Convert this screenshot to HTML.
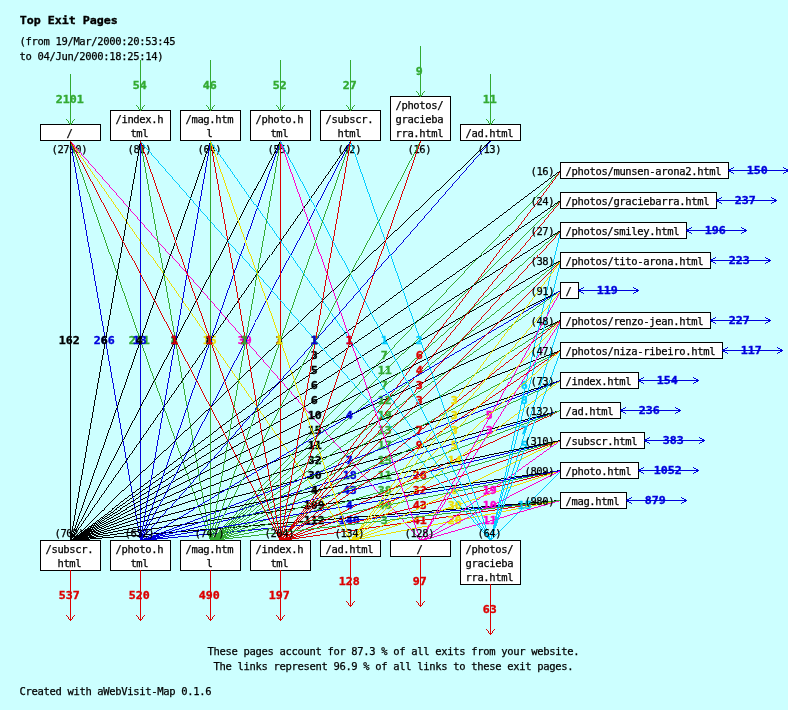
<!DOCTYPE html>
<html lang="en">
<head>
<meta charset="utf-8">
<title>Top Exit Pages</title>
<style>
html,body{margin:0;padding:0;background:#ccffff;}
body{width:788px;height:710px;overflow:hidden;}
svg{display:block;}
text{font-family:"DejaVu Sans Mono", "Liberation Mono", monospace;white-space:pre;}
.t{font-size:10.5px;stroke:#000;stroke-width:0.25px;}
.b{font-size:10.6px;font-weight:bold;stroke-width:0.35px;}
.bx{fill:#fff;stroke:#000;stroke-width:1;shape-rendering:crispEdges;}
line{shape-rendering:crispEdges;}
</style>
</head>
<body>
<svg width="788" height="710" viewBox="0 0 788 710" stroke-width="0.99">
<rect x="0" y="0" width="788" height="710" fill="#ccffff"/>
<text class="b" x="19.7" y="24.0" textLength="98.0" stroke="#000" lengthAdjust="spacingAndGlyphs">Top Exit Pages</text>
<text class="t" x="19.5" y="45.0" textLength="156.0">(from 19/Mar/2000:20:53:45</text>
<text class="t" x="19.5" y="60.0" textLength="144.0">to 04/Jun/2000:18:25:14)</text>
<rect class="bx" x="40.5" y="124.5" width="60.0" height="16.0"/>
<text class="t" x="66.5" y="137.0" textLength="6.0">/</text>
<text class="t" x="51.5" y="153.0" textLength="36.0">(2790)</text>
<text class="b" x="55.7" y="103.0" textLength="28.0" fill="#33aa33" stroke="#33aa33" lengthAdjust="spacingAndGlyphs">2101</text>
<line x1="70.5" y1="74.0" x2="70.5" y2="125.0" stroke="#33aa33" stroke-width="1"/>
<path d="M66 119h1v1h-1zM67 120h1v1h-1zM68 121h1v1h-1zM68 122h1v1h-1zM69 123h1v1h-1zM70 124h1v1h-1zM71 123h1v1h-1zM72 121h1v1h-1zM72 122h1v1h-1zM73 120h1v1h-1zM74 119h1v1h-1z" fill="#33aa33" stroke="none" shape-rendering="crispEdges"/>
<rect class="bx" x="110.5" y="110.5" width="60.0" height="30.0"/>
<text class="t" x="115.5" y="123.0" textLength="48.0">/index.h</text>
<text class="t" x="130.5" y="137.0" textLength="18.0">tml</text>
<text class="t" x="127.5" y="153.0" textLength="24.0">(82)</text>
<text class="b" x="132.7" y="89.0" textLength="14.0" fill="#33aa33" stroke="#33aa33" lengthAdjust="spacingAndGlyphs">54</text>
<line x1="140.5" y1="60.0" x2="140.5" y2="111.0" stroke="#33aa33" stroke-width="1"/>
<path d="M136 105h1v1h-1zM137 106h1v1h-1zM138 107h1v1h-1zM138 108h1v1h-1zM139 109h1v1h-1zM140 110h1v1h-1zM141 109h1v1h-1zM142 107h1v1h-1zM142 108h1v1h-1zM143 106h1v1h-1zM144 105h1v1h-1z" fill="#33aa33" stroke="none" shape-rendering="crispEdges"/>
<rect class="bx" x="180.5" y="110.5" width="60.0" height="30.0"/>
<text class="t" x="185.5" y="123.0" textLength="48.0">/mag.htm</text>
<text class="t" x="206.5" y="137.0" textLength="6.0">l</text>
<text class="t" x="197.5" y="153.0" textLength="24.0">(64)</text>
<text class="b" x="202.7" y="89.0" textLength="14.0" fill="#33aa33" stroke="#33aa33" lengthAdjust="spacingAndGlyphs">46</text>
<line x1="210.5" y1="60.0" x2="210.5" y2="111.0" stroke="#33aa33" stroke-width="1"/>
<path d="M206 105h1v1h-1zM207 106h1v1h-1zM208 107h1v1h-1zM208 108h1v1h-1zM209 109h1v1h-1zM210 110h1v1h-1zM211 109h1v1h-1zM212 107h1v1h-1zM212 108h1v1h-1zM213 106h1v1h-1zM214 105h1v1h-1z" fill="#33aa33" stroke="none" shape-rendering="crispEdges"/>
<rect class="bx" x="250.5" y="110.5" width="60.0" height="30.0"/>
<text class="t" x="255.5" y="123.0" textLength="48.0">/photo.h</text>
<text class="t" x="270.5" y="137.0" textLength="18.0">tml</text>
<text class="t" x="267.5" y="153.0" textLength="24.0">(55)</text>
<text class="b" x="272.7" y="89.0" textLength="14.0" fill="#33aa33" stroke="#33aa33" lengthAdjust="spacingAndGlyphs">52</text>
<line x1="280.5" y1="60.0" x2="280.5" y2="111.0" stroke="#33aa33" stroke-width="1"/>
<path d="M276 105h1v1h-1zM277 106h1v1h-1zM278 107h1v1h-1zM278 108h1v1h-1zM279 109h1v1h-1zM280 110h1v1h-1zM281 109h1v1h-1zM282 107h1v1h-1zM282 108h1v1h-1zM283 106h1v1h-1zM284 105h1v1h-1z" fill="#33aa33" stroke="none" shape-rendering="crispEdges"/>
<rect class="bx" x="320.5" y="110.5" width="60.0" height="30.0"/>
<text class="t" x="325.5" y="123.0" textLength="48.0">/subscr.</text>
<text class="t" x="337.5" y="137.0" textLength="24.0">html</text>
<text class="t" x="337.5" y="153.0" textLength="24.0">(42)</text>
<text class="b" x="342.7" y="89.0" textLength="14.0" fill="#33aa33" stroke="#33aa33" lengthAdjust="spacingAndGlyphs">27</text>
<line x1="350.5" y1="60.0" x2="350.5" y2="111.0" stroke="#33aa33" stroke-width="1"/>
<path d="M346 105h1v1h-1zM347 106h1v1h-1zM348 107h1v1h-1zM348 108h1v1h-1zM349 109h1v1h-1zM350 110h1v1h-1zM351 109h1v1h-1zM352 107h1v1h-1zM352 108h1v1h-1zM353 106h1v1h-1zM354 105h1v1h-1z" fill="#33aa33" stroke="none" shape-rendering="crispEdges"/>
<rect class="bx" x="390.5" y="96.5" width="60.0" height="44.0"/>
<text class="t" x="395.5" y="109.0" textLength="48.0">/photos/</text>
<text class="t" x="395.5" y="123.0" textLength="48.0">gracieba</text>
<text class="t" x="395.5" y="137.0" textLength="48.0">rra.html</text>
<text class="t" x="407.5" y="153.0" textLength="24.0">(16)</text>
<text class="b" x="415.7" y="75.0" textLength="7.0" fill="#33aa33" stroke="#33aa33" lengthAdjust="spacingAndGlyphs">9</text>
<line x1="420.5" y1="46.0" x2="420.5" y2="97.0" stroke="#33aa33" stroke-width="1"/>
<path d="M416 91h1v1h-1zM417 92h1v1h-1zM418 93h1v1h-1zM418 94h1v1h-1zM419 95h1v1h-1zM420 96h1v1h-1zM421 95h1v1h-1zM422 93h1v1h-1zM422 94h1v1h-1zM423 92h1v1h-1zM424 91h1v1h-1z" fill="#33aa33" stroke="none" shape-rendering="crispEdges"/>
<rect class="bx" x="460.5" y="124.5" width="60.0" height="16.0"/>
<text class="t" x="465.5" y="137.0" textLength="48.0">/ad.html</text>
<text class="t" x="477.5" y="153.0" textLength="24.0">(13)</text>
<text class="b" x="482.7" y="103.0" textLength="14.0" fill="#33aa33" stroke="#33aa33" lengthAdjust="spacingAndGlyphs">11</text>
<line x1="490.5" y1="74.0" x2="490.5" y2="125.0" stroke="#33aa33" stroke-width="1"/>
<path d="M486 119h1v1h-1zM487 120h1v1h-1zM488 121h1v1h-1zM488 122h1v1h-1zM489 123h1v1h-1zM490 124h1v1h-1zM491 123h1v1h-1zM492 121h1v1h-1zM492 122h1v1h-1zM493 120h1v1h-1zM494 119h1v1h-1z" fill="#33aa33" stroke="none" shape-rendering="crispEdges"/>
<text class="b" x="93.7" y="344.0" textLength="21.0" fill="#0000dd" stroke="#0000dd" lengthAdjust="spacingAndGlyphs">266</text>
<line x1="70.5" y1="140.5" x2="140.5" y2="540.5" stroke="#0000dd"/>
<text class="b" x="128.7" y="344.0" textLength="21.0" fill="#33aa33" stroke="#33aa33" lengthAdjust="spacingAndGlyphs">211</text>
<line x1="70.5" y1="140.5" x2="210.5" y2="540.5" stroke="#33aa33"/>
<text class="b" x="58.7" y="344.0" textLength="21.0" fill="#000000" stroke="#000000" lengthAdjust="spacingAndGlyphs">162</text>
<line x1="70.5" y1="140.5" x2="70.5" y2="540.5" stroke="#000000" stroke-width="1"/>
<text class="b" x="338.7" y="524.0" textLength="21.0" fill="#0000dd" stroke="#0000dd" lengthAdjust="spacingAndGlyphs">140</text>
<line x1="560.5" y1="500.5" x2="140.5" y2="540.5" stroke="#0000dd"/>
<text class="b" x="303.7" y="524.0" textLength="21.0" fill="#000000" stroke="#000000" lengthAdjust="spacingAndGlyphs">112</text>
<line x1="560.5" y1="500.5" x2="70.5" y2="540.5" stroke="#000000"/>
<text class="b" x="303.7" y="509.0" textLength="21.0" fill="#000000" stroke="#000000" lengthAdjust="spacingAndGlyphs">109</text>
<line x1="560.5" y1="470.5" x2="70.5" y2="540.5" stroke="#000000"/>
<text class="b" x="342.7" y="494.0" textLength="14.0" fill="#0000dd" stroke="#0000dd" lengthAdjust="spacingAndGlyphs">43</text>
<line x1="560.5" y1="440.5" x2="140.5" y2="540.5" stroke="#0000dd"/>
<text class="b" x="412.7" y="509.0" textLength="14.0" fill="#dd0000" stroke="#dd0000" lengthAdjust="spacingAndGlyphs">43</text>
<line x1="560.5" y1="470.5" x2="280.5" y2="540.5" stroke="#dd0000"/>
<text class="b" x="412.7" y="524.0" textLength="14.0" fill="#dd0000" stroke="#dd0000" lengthAdjust="spacingAndGlyphs">41</text>
<line x1="560.5" y1="500.5" x2="280.5" y2="540.5" stroke="#dd0000"/>
<text class="b" x="377.7" y="509.0" textLength="14.0" fill="#33aa33" stroke="#33aa33" lengthAdjust="spacingAndGlyphs">40</text>
<line x1="560.5" y1="470.5" x2="210.5" y2="540.5" stroke="#33aa33"/>
<text class="b" x="237.7" y="344.0" textLength="14.0" fill="#ff00cc" stroke="#ff00cc" lengthAdjust="spacingAndGlyphs">39</text>
<line x1="70.5" y1="140.5" x2="420.5" y2="540.5" stroke="#ff00cc"/>
<text class="b" x="377.7" y="494.0" textLength="14.0" fill="#33aa33" stroke="#33aa33" lengthAdjust="spacingAndGlyphs">38</text>
<line x1="560.5" y1="440.5" x2="210.5" y2="540.5" stroke="#33aa33"/>
<text class="b" x="307.7" y="464.0" textLength="14.0" fill="#000000" stroke="#000000" lengthAdjust="spacingAndGlyphs">32</text>
<line x1="560.5" y1="380.5" x2="70.5" y2="540.5" stroke="#000000"/>
<text class="b" x="412.7" y="494.0" textLength="14.0" fill="#dd0000" stroke="#dd0000" lengthAdjust="spacingAndGlyphs">32</text>
<line x1="560.5" y1="440.5" x2="280.5" y2="540.5" stroke="#dd0000"/>
<text class="b" x="307.7" y="479.0" textLength="14.0" fill="#000000" stroke="#000000" lengthAdjust="spacingAndGlyphs">30</text>
<line x1="560.5" y1="410.5" x2="70.5" y2="540.5" stroke="#000000"/>
<text class="b" x="447.7" y="509.0" textLength="14.0" fill="#eedd00" stroke="#eedd00" lengthAdjust="spacingAndGlyphs">30</text>
<line x1="560.5" y1="470.5" x2="350.5" y2="540.5" stroke="#eedd00"/>
<text class="b" x="412.7" y="479.0" textLength="14.0" fill="#dd0000" stroke="#dd0000" lengthAdjust="spacingAndGlyphs">26</text>
<line x1="560.5" y1="410.5" x2="280.5" y2="540.5" stroke="#dd0000"/>
<text class="b" x="447.7" y="524.0" textLength="14.0" fill="#eedd00" stroke="#eedd00" lengthAdjust="spacingAndGlyphs">20</text>
<line x1="560.5" y1="500.5" x2="350.5" y2="540.5" stroke="#eedd00"/>
<text class="b" x="377.7" y="419.0" textLength="14.0" fill="#33aa33" stroke="#33aa33" lengthAdjust="spacingAndGlyphs">19</text>
<line x1="560.5" y1="290.5" x2="210.5" y2="540.5" stroke="#33aa33"/>
<text class="b" x="482.7" y="494.0" textLength="14.0" fill="#ff00cc" stroke="#ff00cc" lengthAdjust="spacingAndGlyphs">19</text>
<line x1="560.5" y1="440.5" x2="420.5" y2="540.5" stroke="#ff00cc"/>
<text class="b" x="342.7" y="479.0" textLength="14.0" fill="#0000dd" stroke="#0000dd" lengthAdjust="spacingAndGlyphs">18</text>
<line x1="560.5" y1="410.5" x2="140.5" y2="540.5" stroke="#0000dd"/>
<text class="b" x="377.7" y="449.0" textLength="14.0" fill="#33aa33" stroke="#33aa33" lengthAdjust="spacingAndGlyphs">17</text>
<line x1="560.5" y1="350.5" x2="210.5" y2="540.5" stroke="#33aa33"/>
<text class="b" x="202.7" y="344.0" textLength="14.0" fill="#eedd00" stroke="#eedd00" lengthAdjust="spacingAndGlyphs">15</text>
<line x1="70.5" y1="140.5" x2="350.5" y2="540.5" stroke="#eedd00"/>
<text class="b" x="307.7" y="434.0" textLength="14.0" fill="#000000" stroke="#000000" lengthAdjust="spacingAndGlyphs">15</text>
<line x1="560.5" y1="320.5" x2="70.5" y2="540.5" stroke="#000000"/>
<text class="b" x="377.7" y="464.0" textLength="14.0" fill="#33aa33" stroke="#33aa33" lengthAdjust="spacingAndGlyphs">15</text>
<line x1="560.5" y1="380.5" x2="210.5" y2="540.5" stroke="#33aa33"/>
<text class="b" x="517.7" y="509.0" textLength="14.0" fill="#00ccff" stroke="#00ccff" lengthAdjust="spacingAndGlyphs">15</text>
<line x1="560.5" y1="470.5" x2="490.5" y2="540.5" stroke="#00ccff"/>
<text class="b" x="447.7" y="464.0" textLength="14.0" fill="#eedd00" stroke="#eedd00" lengthAdjust="spacingAndGlyphs">14</text>
<line x1="560.5" y1="380.5" x2="350.5" y2="540.5" stroke="#eedd00"/>
<text class="b" x="132.7" y="344.0" textLength="14.0" fill="#0000dd" stroke="#0000dd" lengthAdjust="spacingAndGlyphs">13</text>
<line x1="140.5" y1="140.5" x2="140.5" y2="540.5" stroke="#0000dd" stroke-width="1"/>
<text class="b" x="377.7" y="434.0" textLength="14.0" fill="#33aa33" stroke="#33aa33" lengthAdjust="spacingAndGlyphs">13</text>
<line x1="560.5" y1="320.5" x2="210.5" y2="540.5" stroke="#33aa33"/>
<text class="b" x="377.7" y="404.0" textLength="14.0" fill="#33aa33" stroke="#33aa33" lengthAdjust="spacingAndGlyphs">12</text>
<line x1="560.5" y1="260.5" x2="210.5" y2="540.5" stroke="#33aa33"/>
<text class="b" x="377.7" y="374.0" textLength="14.0" fill="#33aa33" stroke="#33aa33" lengthAdjust="spacingAndGlyphs">11</text>
<line x1="560.5" y1="200.5" x2="210.5" y2="540.5" stroke="#33aa33"/>
<text class="b" x="307.7" y="449.0" textLength="14.0" fill="#000000" stroke="#000000" lengthAdjust="spacingAndGlyphs">11</text>
<line x1="560.5" y1="350.5" x2="70.5" y2="540.5" stroke="#000000"/>
<text class="b" x="377.7" y="479.0" textLength="14.0" fill="#33aa33" stroke="#33aa33" lengthAdjust="spacingAndGlyphs">11</text>
<line x1="560.5" y1="410.5" x2="210.5" y2="540.5" stroke="#33aa33"/>
<text class="b" x="482.7" y="524.0" textLength="14.0" fill="#ff00cc" stroke="#ff00cc" lengthAdjust="spacingAndGlyphs">11</text>
<line x1="560.5" y1="500.5" x2="420.5" y2="540.5" stroke="#ff00cc"/>
<text class="b" x="307.7" y="419.0" textLength="14.0" fill="#000000" stroke="#000000" lengthAdjust="spacingAndGlyphs">10</text>
<line x1="560.5" y1="290.5" x2="70.5" y2="540.5" stroke="#000000"/>
<text class="b" x="482.7" y="509.0" textLength="14.0" fill="#ff00cc" stroke="#ff00cc" lengthAdjust="spacingAndGlyphs">10</text>
<line x1="560.5" y1="470.5" x2="420.5" y2="540.5" stroke="#ff00cc"/>
<text class="b" x="415.7" y="449.0" textLength="7.0" fill="#dd0000" stroke="#dd0000" lengthAdjust="spacingAndGlyphs">9</text>
<line x1="560.5" y1="350.5" x2="280.5" y2="540.5" stroke="#dd0000"/>
<text class="b" x="170.7" y="344.0" textLength="7.0" fill="#33aa33" stroke="#33aa33" lengthAdjust="spacingAndGlyphs">8</text>
<line x1="140.5" y1="140.5" x2="210.5" y2="540.5" stroke="#33aa33"/>
<text class="b" x="205.7" y="344.0" textLength="7.0" fill="#000000" stroke="#000000" lengthAdjust="spacingAndGlyphs">8</text>
<line x1="350.5" y1="140.5" x2="70.5" y2="540.5" stroke="#000000"/>
<text class="b" x="520.7" y="404.0" textLength="7.0" fill="#00ccff" stroke="#00ccff" lengthAdjust="spacingAndGlyphs">8</text>
<line x1="560.5" y1="260.5" x2="490.5" y2="540.5" stroke="#00ccff"/>
<text class="b" x="380.7" y="359.0" textLength="7.0" fill="#33aa33" stroke="#33aa33" lengthAdjust="spacingAndGlyphs">7</text>
<line x1="560.5" y1="170.5" x2="210.5" y2="540.5" stroke="#33aa33"/>
<text class="b" x="380.7" y="389.0" textLength="7.0" fill="#33aa33" stroke="#33aa33" lengthAdjust="spacingAndGlyphs">7</text>
<line x1="560.5" y1="230.5" x2="210.5" y2="540.5" stroke="#33aa33"/>
<text class="b" x="415.7" y="434.0" textLength="7.0" fill="#dd0000" stroke="#dd0000" lengthAdjust="spacingAndGlyphs">7</text>
<line x1="560.5" y1="320.5" x2="280.5" y2="540.5" stroke="#dd0000"/>
<text class="b" x="520.7" y="434.0" textLength="7.0" fill="#00ccff" stroke="#00ccff" lengthAdjust="spacingAndGlyphs">7</text>
<line x1="560.5" y1="320.5" x2="490.5" y2="540.5" stroke="#00ccff"/>
<text class="b" x="345.7" y="464.0" textLength="7.0" fill="#0000dd" stroke="#0000dd" lengthAdjust="spacingAndGlyphs">7</text>
<line x1="560.5" y1="380.5" x2="140.5" y2="540.5" stroke="#0000dd"/>
<text class="b" x="100.7" y="344.0" textLength="7.0" fill="#000000" stroke="#000000" lengthAdjust="spacingAndGlyphs">6</text>
<line x1="140.5" y1="140.5" x2="70.5" y2="540.5" stroke="#000000"/>
<text class="b" x="415.7" y="359.0" textLength="7.0" fill="#dd0000" stroke="#dd0000" lengthAdjust="spacingAndGlyphs">6</text>
<line x1="560.5" y1="170.5" x2="280.5" y2="540.5" stroke="#dd0000"/>
<text class="b" x="310.7" y="389.0" textLength="7.0" fill="#000000" stroke="#000000" lengthAdjust="spacingAndGlyphs">6</text>
<line x1="560.5" y1="230.5" x2="70.5" y2="540.5" stroke="#000000"/>
<text class="b" x="520.7" y="389.0" textLength="7.0" fill="#00ccff" stroke="#00ccff" lengthAdjust="spacingAndGlyphs">6</text>
<line x1="560.5" y1="230.5" x2="490.5" y2="540.5" stroke="#00ccff"/>
<text class="b" x="310.7" y="404.0" textLength="7.0" fill="#000000" stroke="#000000" lengthAdjust="spacingAndGlyphs">6</text>
<line x1="560.5" y1="260.5" x2="70.5" y2="540.5" stroke="#000000"/>
<text class="b" x="450.7" y="494.0" textLength="7.0" fill="#eedd00" stroke="#eedd00" lengthAdjust="spacingAndGlyphs">6</text>
<line x1="560.5" y1="440.5" x2="350.5" y2="540.5" stroke="#eedd00"/>
<text class="b" x="310.7" y="374.0" textLength="7.0" fill="#000000" stroke="#000000" lengthAdjust="spacingAndGlyphs">5</text>
<line x1="560.5" y1="200.5" x2="70.5" y2="540.5" stroke="#000000"/>
<text class="b" x="485.7" y="419.0" textLength="7.0" fill="#ff00cc" stroke="#ff00cc" lengthAdjust="spacingAndGlyphs">5</text>
<line x1="560.5" y1="290.5" x2="420.5" y2="540.5" stroke="#ff00cc"/>
<text class="b" x="450.7" y="449.0" textLength="7.0" fill="#eedd00" stroke="#eedd00" lengthAdjust="spacingAndGlyphs">5</text>
<line x1="560.5" y1="350.5" x2="350.5" y2="540.5" stroke="#eedd00"/>
<text class="b" x="520.7" y="449.0" textLength="7.0" fill="#00ccff" stroke="#00ccff" lengthAdjust="spacingAndGlyphs">5</text>
<line x1="560.5" y1="350.5" x2="490.5" y2="540.5" stroke="#00ccff"/>
<text class="b" x="135.7" y="344.0" textLength="7.0" fill="#000000" stroke="#000000" lengthAdjust="spacingAndGlyphs">4</text>
<line x1="210.5" y1="140.5" x2="70.5" y2="540.5" stroke="#000000"/>
<text class="b" x="415.7" y="374.0" textLength="7.0" fill="#dd0000" stroke="#dd0000" lengthAdjust="spacingAndGlyphs">4</text>
<line x1="560.5" y1="200.5" x2="280.5" y2="540.5" stroke="#dd0000"/>
<text class="b" x="345.7" y="419.0" textLength="7.0" fill="#0000dd" stroke="#0000dd" lengthAdjust="spacingAndGlyphs">4</text>
<line x1="560.5" y1="290.5" x2="140.5" y2="540.5" stroke="#0000dd"/>
<text class="b" x="310.7" y="494.0" textLength="7.0" fill="#000000" stroke="#000000" lengthAdjust="spacingAndGlyphs">4</text>
<line x1="560.5" y1="440.5" x2="70.5" y2="540.5" stroke="#000000"/>
<text class="b" x="345.7" y="509.0" textLength="7.0" fill="#0000dd" stroke="#0000dd" lengthAdjust="spacingAndGlyphs">4</text>
<line x1="560.5" y1="470.5" x2="140.5" y2="540.5" stroke="#0000dd"/>
<text class="b" x="205.7" y="344.0" textLength="7.0" fill="#0000dd" stroke="#0000dd" lengthAdjust="spacingAndGlyphs">3</text>
<line x1="280.5" y1="140.5" x2="140.5" y2="540.5" stroke="#0000dd"/>
<text class="b" x="240.7" y="344.0" textLength="7.0" fill="#0000dd" stroke="#0000dd" lengthAdjust="spacingAndGlyphs">3</text>
<line x1="350.5" y1="140.5" x2="140.5" y2="540.5" stroke="#0000dd"/>
<text class="b" x="275.7" y="344.0" textLength="7.0" fill="#000000" stroke="#000000" lengthAdjust="spacingAndGlyphs">3</text>
<line x1="490.5" y1="140.5" x2="70.5" y2="540.5" stroke="#000000"/>
<text class="b" x="310.7" y="359.0" textLength="7.0" fill="#000000" stroke="#000000" lengthAdjust="spacingAndGlyphs">3</text>
<line x1="560.5" y1="170.5" x2="70.5" y2="540.5" stroke="#000000"/>
<text class="b" x="415.7" y="389.0" textLength="7.0" fill="#dd0000" stroke="#dd0000" lengthAdjust="spacingAndGlyphs">3</text>
<line x1="560.5" y1="230.5" x2="280.5" y2="540.5" stroke="#dd0000"/>
<text class="b" x="415.7" y="404.0" textLength="7.0" fill="#dd0000" stroke="#dd0000" lengthAdjust="spacingAndGlyphs">3</text>
<line x1="560.5" y1="260.5" x2="280.5" y2="540.5" stroke="#dd0000"/>
<text class="b" x="450.7" y="404.0" textLength="7.0" fill="#eedd00" stroke="#eedd00" lengthAdjust="spacingAndGlyphs">3</text>
<line x1="560.5" y1="260.5" x2="350.5" y2="540.5" stroke="#eedd00"/>
<text class="b" x="450.7" y="419.0" textLength="7.0" fill="#eedd00" stroke="#eedd00" lengthAdjust="spacingAndGlyphs">3</text>
<line x1="560.5" y1="290.5" x2="350.5" y2="540.5" stroke="#eedd00"/>
<text class="b" x="450.7" y="434.0" textLength="7.0" fill="#eedd00" stroke="#eedd00" lengthAdjust="spacingAndGlyphs">3</text>
<line x1="560.5" y1="320.5" x2="350.5" y2="540.5" stroke="#eedd00"/>
<text class="b" x="485.7" y="434.0" textLength="7.0" fill="#ff00cc" stroke="#ff00cc" lengthAdjust="spacingAndGlyphs">3</text>
<line x1="560.5" y1="320.5" x2="420.5" y2="540.5" stroke="#ff00cc"/>
<text class="b" x="380.7" y="524.0" textLength="7.0" fill="#33aa33" stroke="#33aa33" lengthAdjust="spacingAndGlyphs">3</text>
<line x1="560.5" y1="500.5" x2="210.5" y2="540.5" stroke="#33aa33"/>
<text class="b" x="240.7" y="344.0" textLength="7.0" fill="#dd0000" stroke="#dd0000" lengthAdjust="spacingAndGlyphs">2</text>
<line x1="210.5" y1="140.5" x2="280.5" y2="540.5" stroke="#dd0000"/>
<text class="b" x="275.7" y="344.0" textLength="7.0" fill="#dd0000" stroke="#dd0000" lengthAdjust="spacingAndGlyphs">2</text>
<line x1="280.5" y1="140.5" x2="280.5" y2="540.5" stroke="#dd0000" stroke-width="1"/>
<text class="b" x="415.7" y="344.0" textLength="7.0" fill="#00ccff" stroke="#00ccff" lengthAdjust="spacingAndGlyphs">2</text>
<line x1="350.5" y1="140.5" x2="490.5" y2="540.5" stroke="#00ccff"/>
<text class="b" x="310.7" y="344.0" textLength="7.0" fill="#00ccff" stroke="#00ccff" lengthAdjust="spacingAndGlyphs">1</text>
<line x1="140.5" y1="140.5" x2="490.5" y2="540.5" stroke="#00ccff"/>
<text class="b" x="170.7" y="344.0" textLength="7.0" fill="#0000dd" stroke="#0000dd" lengthAdjust="spacingAndGlyphs">1</text>
<line x1="210.5" y1="140.5" x2="140.5" y2="540.5" stroke="#0000dd"/>
<text class="b" x="205.7" y="344.0" textLength="7.0" fill="#33aa33" stroke="#33aa33" lengthAdjust="spacingAndGlyphs">1</text>
<line x1="210.5" y1="140.5" x2="210.5" y2="540.5" stroke="#33aa33" stroke-width="1"/>
<text class="b" x="345.7" y="344.0" textLength="7.0" fill="#00ccff" stroke="#00ccff" lengthAdjust="spacingAndGlyphs">1</text>
<line x1="210.5" y1="140.5" x2="490.5" y2="540.5" stroke="#00ccff"/>
<text class="b" x="170.7" y="344.0" textLength="7.0" fill="#000000" stroke="#000000" lengthAdjust="spacingAndGlyphs">1</text>
<line x1="280.5" y1="140.5" x2="70.5" y2="540.5" stroke="#000000"/>
<text class="b" x="240.7" y="344.0" textLength="7.0" fill="#33aa33" stroke="#33aa33" lengthAdjust="spacingAndGlyphs">1</text>
<line x1="280.5" y1="140.5" x2="210.5" y2="540.5" stroke="#33aa33"/>
<text class="b" x="345.7" y="344.0" textLength="7.0" fill="#ff00cc" stroke="#ff00cc" lengthAdjust="spacingAndGlyphs">1</text>
<line x1="280.5" y1="140.5" x2="420.5" y2="540.5" stroke="#ff00cc"/>
<text class="b" x="380.7" y="344.0" textLength="7.0" fill="#00ccff" stroke="#00ccff" lengthAdjust="spacingAndGlyphs">1</text>
<line x1="280.5" y1="140.5" x2="490.5" y2="540.5" stroke="#00ccff"/>
<text class="b" x="275.7" y="344.0" textLength="7.0" fill="#33aa33" stroke="#33aa33" lengthAdjust="spacingAndGlyphs">1</text>
<line x1="350.5" y1="140.5" x2="210.5" y2="540.5" stroke="#33aa33"/>
<text class="b" x="310.7" y="344.0" textLength="7.0" fill="#dd0000" stroke="#dd0000" lengthAdjust="spacingAndGlyphs">1</text>
<line x1="350.5" y1="140.5" x2="280.5" y2="540.5" stroke="#dd0000"/>
<text class="b" x="310.7" y="344.0" textLength="7.0" fill="#33aa33" stroke="#33aa33" lengthAdjust="spacingAndGlyphs">1</text>
<line x1="420.5" y1="140.5" x2="210.5" y2="540.5" stroke="#33aa33"/>
<text class="b" x="170.7" y="344.0" textLength="7.0" fill="#dd0000" stroke="#dd0000" lengthAdjust="spacingAndGlyphs">1</text>
<line x1="70.5" y1="140.5" x2="280.5" y2="540.5" stroke="#dd0000"/>
<text class="b" x="205.7" y="344.0" textLength="7.0" fill="#dd0000" stroke="#dd0000" lengthAdjust="spacingAndGlyphs">1</text>
<line x1="140.5" y1="140.5" x2="280.5" y2="540.5" stroke="#dd0000"/>
<text class="b" x="275.7" y="344.0" textLength="7.0" fill="#eedd00" stroke="#eedd00" lengthAdjust="spacingAndGlyphs">1</text>
<line x1="210.5" y1="140.5" x2="350.5" y2="540.5" stroke="#eedd00"/>
<text class="b" x="345.7" y="344.0" textLength="7.0" fill="#dd0000" stroke="#dd0000" lengthAdjust="spacingAndGlyphs">1</text>
<line x1="420.5" y1="140.5" x2="280.5" y2="540.5" stroke="#dd0000"/>
<text class="b" x="310.7" y="344.0" textLength="7.0" fill="#0000dd" stroke="#0000dd" lengthAdjust="spacingAndGlyphs">1</text>
<line x1="490.5" y1="140.5" x2="140.5" y2="540.5" stroke="#0000dd"/>
<rect class="bx" x="560.5" y="162.5" width="168.0" height="16.0"/>
<text class="t" x="565.5" y="175.0" textLength="156.0">/photos/munsen-arona2.html</text>
<text class="t" x="530.5" y="175.0" textLength="24.0">(16)</text>
<text class="b" x="746.7" y="174.0" textLength="21.0" fill="#0000dd" stroke="#0000dd" lengthAdjust="spacingAndGlyphs">150</text>
<line x1="728.0" y1="170.5" x2="789.0" y2="170.5" stroke="#0000dd" stroke-width="1"/>
<path d="M728 170h1v1h-1zM729 169h1v1h-1zM729 171h1v1h-1zM730 169h1v1h-1zM730 171h1v1h-1zM731 168h1v1h-1zM731 172h1v1h-1zM732 168h1v1h-1zM732 172h1v1h-1zM733 167h1v1h-1zM733 173h1v1h-1zM783 167h1v1h-1zM783 173h1v1h-1zM784 168h1v1h-1zM784 172h1v1h-1zM785 168h1v1h-1zM785 172h1v1h-1zM786 169h1v1h-1zM786 171h1v1h-1zM787 169h1v1h-1zM787 171h1v1h-1zM788 170h1v1h-1z" fill="#0000dd" stroke="none" shape-rendering="crispEdges"/>
<rect class="bx" x="560.5" y="192.5" width="156.0" height="16.0"/>
<text class="t" x="565.5" y="205.0" textLength="144.0">/photos/graciebarra.html</text>
<text class="t" x="530.5" y="205.0" textLength="24.0">(24)</text>
<text class="b" x="734.7" y="204.0" textLength="21.0" fill="#0000dd" stroke="#0000dd" lengthAdjust="spacingAndGlyphs">237</text>
<line x1="716.0" y1="200.5" x2="777.0" y2="200.5" stroke="#0000dd" stroke-width="1"/>
<path d="M716 200h1v1h-1zM717 199h1v1h-1zM717 201h1v1h-1zM718 199h1v1h-1zM718 201h1v1h-1zM719 198h1v1h-1zM719 202h1v1h-1zM720 198h1v1h-1zM720 202h1v1h-1zM721 197h1v1h-1zM721 203h1v1h-1zM771 197h1v1h-1zM771 203h1v1h-1zM772 198h1v1h-1zM772 202h1v1h-1zM773 198h1v1h-1zM773 202h1v1h-1zM774 199h1v1h-1zM774 201h1v1h-1zM775 199h1v1h-1zM775 201h1v1h-1zM776 200h1v1h-1z" fill="#0000dd" stroke="none" shape-rendering="crispEdges"/>
<rect class="bx" x="560.5" y="222.5" width="126.0" height="16.0"/>
<text class="t" x="565.5" y="235.0" textLength="114.0">/photos/smiley.html</text>
<text class="t" x="530.5" y="235.0" textLength="24.0">(27)</text>
<text class="b" x="704.7" y="234.0" textLength="21.0" fill="#0000dd" stroke="#0000dd" lengthAdjust="spacingAndGlyphs">196</text>
<line x1="686.0" y1="230.5" x2="747.0" y2="230.5" stroke="#0000dd" stroke-width="1"/>
<path d="M686 230h1v1h-1zM687 229h1v1h-1zM687 231h1v1h-1zM688 229h1v1h-1zM688 231h1v1h-1zM689 228h1v1h-1zM689 232h1v1h-1zM690 228h1v1h-1zM690 232h1v1h-1zM691 227h1v1h-1zM691 233h1v1h-1zM741 227h1v1h-1zM741 233h1v1h-1zM742 228h1v1h-1zM742 232h1v1h-1zM743 228h1v1h-1zM743 232h1v1h-1zM744 229h1v1h-1zM744 231h1v1h-1zM745 229h1v1h-1zM745 231h1v1h-1zM746 230h1v1h-1z" fill="#0000dd" stroke="none" shape-rendering="crispEdges"/>
<rect class="bx" x="560.5" y="252.5" width="150.0" height="16.0"/>
<text class="t" x="565.5" y="265.0" textLength="138.0">/photos/tito-arona.html</text>
<text class="t" x="530.5" y="265.0" textLength="24.0">(38)</text>
<text class="b" x="728.7" y="264.0" textLength="21.0" fill="#0000dd" stroke="#0000dd" lengthAdjust="spacingAndGlyphs">223</text>
<line x1="710.0" y1="260.5" x2="771.0" y2="260.5" stroke="#0000dd" stroke-width="1"/>
<path d="M710 260h1v1h-1zM711 259h1v1h-1zM711 261h1v1h-1zM712 259h1v1h-1zM712 261h1v1h-1zM713 258h1v1h-1zM713 262h1v1h-1zM714 258h1v1h-1zM714 262h1v1h-1zM715 257h1v1h-1zM715 263h1v1h-1zM765 257h1v1h-1zM765 263h1v1h-1zM766 258h1v1h-1zM766 262h1v1h-1zM767 258h1v1h-1zM767 262h1v1h-1zM768 259h1v1h-1zM768 261h1v1h-1zM769 259h1v1h-1zM769 261h1v1h-1zM770 260h1v1h-1z" fill="#0000dd" stroke="none" shape-rendering="crispEdges"/>
<rect class="bx" x="560.5" y="282.5" width="18.0" height="16.0"/>
<text class="t" x="565.5" y="295.0" textLength="6.0">/</text>
<text class="t" x="530.5" y="295.0" textLength="24.0">(91)</text>
<text class="b" x="596.7" y="294.0" textLength="21.0" fill="#0000dd" stroke="#0000dd" lengthAdjust="spacingAndGlyphs">119</text>
<line x1="578.0" y1="290.5" x2="639.0" y2="290.5" stroke="#0000dd" stroke-width="1"/>
<path d="M578 290h1v1h-1zM579 289h1v1h-1zM579 291h1v1h-1zM580 289h1v1h-1zM580 291h1v1h-1zM581 288h1v1h-1zM581 292h1v1h-1zM582 288h1v1h-1zM582 292h1v1h-1zM583 287h1v1h-1zM583 293h1v1h-1zM633 287h1v1h-1zM633 293h1v1h-1zM634 288h1v1h-1zM634 292h1v1h-1zM635 288h1v1h-1zM635 292h1v1h-1zM636 289h1v1h-1zM636 291h1v1h-1zM637 289h1v1h-1zM637 291h1v1h-1zM638 290h1v1h-1z" fill="#0000dd" stroke="none" shape-rendering="crispEdges"/>
<rect class="bx" x="560.5" y="312.5" width="150.0" height="16.0"/>
<text class="t" x="565.5" y="325.0" textLength="138.0">/photos/renzo-jean.html</text>
<text class="t" x="530.5" y="325.0" textLength="24.0">(48)</text>
<text class="b" x="728.7" y="324.0" textLength="21.0" fill="#0000dd" stroke="#0000dd" lengthAdjust="spacingAndGlyphs">227</text>
<line x1="710.0" y1="320.5" x2="771.0" y2="320.5" stroke="#0000dd" stroke-width="1"/>
<path d="M710 320h1v1h-1zM711 319h1v1h-1zM711 321h1v1h-1zM712 319h1v1h-1zM712 321h1v1h-1zM713 318h1v1h-1zM713 322h1v1h-1zM714 318h1v1h-1zM714 322h1v1h-1zM715 317h1v1h-1zM715 323h1v1h-1zM765 317h1v1h-1zM765 323h1v1h-1zM766 318h1v1h-1zM766 322h1v1h-1zM767 318h1v1h-1zM767 322h1v1h-1zM768 319h1v1h-1zM768 321h1v1h-1zM769 319h1v1h-1zM769 321h1v1h-1zM770 320h1v1h-1z" fill="#0000dd" stroke="none" shape-rendering="crispEdges"/>
<rect class="bx" x="560.5" y="342.5" width="162.0" height="16.0"/>
<text class="t" x="565.5" y="355.0" textLength="150.0">/photos/niza-ribeiro.html</text>
<text class="t" x="530.5" y="355.0" textLength="24.0">(47)</text>
<text class="b" x="740.7" y="354.0" textLength="21.0" fill="#0000dd" stroke="#0000dd" lengthAdjust="spacingAndGlyphs">117</text>
<line x1="722.0" y1="350.5" x2="783.0" y2="350.5" stroke="#0000dd" stroke-width="1"/>
<path d="M722 350h1v1h-1zM723 349h1v1h-1zM723 351h1v1h-1zM724 349h1v1h-1zM724 351h1v1h-1zM725 348h1v1h-1zM725 352h1v1h-1zM726 348h1v1h-1zM726 352h1v1h-1zM727 347h1v1h-1zM727 353h1v1h-1zM777 347h1v1h-1zM777 353h1v1h-1zM778 348h1v1h-1zM778 352h1v1h-1zM779 348h1v1h-1zM779 352h1v1h-1zM780 349h1v1h-1zM780 351h1v1h-1zM781 349h1v1h-1zM781 351h1v1h-1zM782 350h1v1h-1z" fill="#0000dd" stroke="none" shape-rendering="crispEdges"/>
<rect class="bx" x="560.5" y="372.5" width="78.0" height="16.0"/>
<text class="t" x="565.5" y="385.0" textLength="66.0">/index.html</text>
<text class="t" x="530.5" y="385.0" textLength="24.0">(73)</text>
<text class="b" x="656.7" y="384.0" textLength="21.0" fill="#0000dd" stroke="#0000dd" lengthAdjust="spacingAndGlyphs">154</text>
<line x1="638.0" y1="380.5" x2="699.0" y2="380.5" stroke="#0000dd" stroke-width="1"/>
<path d="M638 380h1v1h-1zM639 379h1v1h-1zM639 381h1v1h-1zM640 379h1v1h-1zM640 381h1v1h-1zM641 378h1v1h-1zM641 382h1v1h-1zM642 378h1v1h-1zM642 382h1v1h-1zM643 377h1v1h-1zM643 383h1v1h-1zM693 377h1v1h-1zM693 383h1v1h-1zM694 378h1v1h-1zM694 382h1v1h-1zM695 378h1v1h-1zM695 382h1v1h-1zM696 379h1v1h-1zM696 381h1v1h-1zM697 379h1v1h-1zM697 381h1v1h-1zM698 380h1v1h-1z" fill="#0000dd" stroke="none" shape-rendering="crispEdges"/>
<rect class="bx" x="560.5" y="402.5" width="60.0" height="16.0"/>
<text class="t" x="565.5" y="415.0" textLength="48.0">/ad.html</text>
<text class="t" x="524.5" y="415.0" textLength="30.0">(132)</text>
<text class="b" x="638.7" y="414.0" textLength="21.0" fill="#0000dd" stroke="#0000dd" lengthAdjust="spacingAndGlyphs">236</text>
<line x1="620.0" y1="410.5" x2="681.0" y2="410.5" stroke="#0000dd" stroke-width="1"/>
<path d="M620 410h1v1h-1zM621 409h1v1h-1zM621 411h1v1h-1zM622 409h1v1h-1zM622 411h1v1h-1zM623 408h1v1h-1zM623 412h1v1h-1zM624 408h1v1h-1zM624 412h1v1h-1zM625 407h1v1h-1zM625 413h1v1h-1zM675 407h1v1h-1zM675 413h1v1h-1zM676 408h1v1h-1zM676 412h1v1h-1zM677 408h1v1h-1zM677 412h1v1h-1zM678 409h1v1h-1zM678 411h1v1h-1zM679 409h1v1h-1zM679 411h1v1h-1zM680 410h1v1h-1z" fill="#0000dd" stroke="none" shape-rendering="crispEdges"/>
<rect class="bx" x="560.5" y="432.5" width="84.0" height="16.0"/>
<text class="t" x="565.5" y="445.0" textLength="72.0">/subscr.html</text>
<text class="t" x="524.5" y="445.0" textLength="30.0">(310)</text>
<text class="b" x="662.7" y="444.0" textLength="21.0" fill="#0000dd" stroke="#0000dd" lengthAdjust="spacingAndGlyphs">383</text>
<line x1="644.0" y1="440.5" x2="705.0" y2="440.5" stroke="#0000dd" stroke-width="1"/>
<path d="M644 440h1v1h-1zM645 439h1v1h-1zM645 441h1v1h-1zM646 439h1v1h-1zM646 441h1v1h-1zM647 438h1v1h-1zM647 442h1v1h-1zM648 438h1v1h-1zM648 442h1v1h-1zM649 437h1v1h-1zM649 443h1v1h-1zM699 437h1v1h-1zM699 443h1v1h-1zM700 438h1v1h-1zM700 442h1v1h-1zM701 438h1v1h-1zM701 442h1v1h-1zM702 439h1v1h-1zM702 441h1v1h-1zM703 439h1v1h-1zM703 441h1v1h-1zM704 440h1v1h-1z" fill="#0000dd" stroke="none" shape-rendering="crispEdges"/>
<rect class="bx" x="560.5" y="462.5" width="78.0" height="16.0"/>
<text class="t" x="565.5" y="475.0" textLength="66.0">/photo.html</text>
<text class="t" x="524.5" y="475.0" textLength="30.0">(809)</text>
<text class="b" x="653.7" y="474.0" textLength="28.0" fill="#0000dd" stroke="#0000dd" lengthAdjust="spacingAndGlyphs">1052</text>
<line x1="638.0" y1="470.5" x2="699.0" y2="470.5" stroke="#0000dd" stroke-width="1"/>
<path d="M638 470h1v1h-1zM639 469h1v1h-1zM639 471h1v1h-1zM640 469h1v1h-1zM640 471h1v1h-1zM641 468h1v1h-1zM641 472h1v1h-1zM642 468h1v1h-1zM642 472h1v1h-1zM643 467h1v1h-1zM643 473h1v1h-1zM693 467h1v1h-1zM693 473h1v1h-1zM694 468h1v1h-1zM694 472h1v1h-1zM695 468h1v1h-1zM695 472h1v1h-1zM696 469h1v1h-1zM696 471h1v1h-1zM697 469h1v1h-1zM697 471h1v1h-1zM698 470h1v1h-1z" fill="#0000dd" stroke="none" shape-rendering="crispEdges"/>
<rect class="bx" x="560.5" y="492.5" width="66.0" height="16.0"/>
<text class="t" x="565.5" y="505.0" textLength="54.0">/mag.html</text>
<text class="t" x="524.5" y="505.0" textLength="30.0">(980)</text>
<text class="b" x="644.7" y="504.0" textLength="21.0" fill="#0000dd" stroke="#0000dd" lengthAdjust="spacingAndGlyphs">879</text>
<line x1="626.0" y1="500.5" x2="687.0" y2="500.5" stroke="#0000dd" stroke-width="1"/>
<path d="M626 500h1v1h-1zM627 499h1v1h-1zM627 501h1v1h-1zM628 499h1v1h-1zM628 501h1v1h-1zM629 498h1v1h-1zM629 502h1v1h-1zM630 498h1v1h-1zM630 502h1v1h-1zM631 497h1v1h-1zM631 503h1v1h-1zM681 497h1v1h-1zM681 503h1v1h-1zM682 498h1v1h-1zM682 502h1v1h-1zM683 498h1v1h-1zM683 502h1v1h-1zM684 499h1v1h-1zM684 501h1v1h-1zM685 499h1v1h-1zM685 501h1v1h-1zM686 500h1v1h-1z" fill="#0000dd" stroke="none" shape-rendering="crispEdges"/>
<rect class="bx" x="40.5" y="540.5" width="60.0" height="30.0"/>
<text class="t" x="45.5" y="553.0" textLength="48.0">/subscr.</text>
<text class="t" x="57.5" y="567.0" textLength="24.0">html</text>
<text class="t" x="54.5" y="537.0" textLength="30.0">(702)</text>
<text class="b" x="58.7" y="599.0" textLength="21.0" fill="#dd0000" stroke="#dd0000" lengthAdjust="spacingAndGlyphs">537</text>
<line x1="70.5" y1="570.0" x2="70.5" y2="621.0" stroke="#dd0000" stroke-width="1"/>
<path d="M66 615h1v1h-1zM67 616h1v1h-1zM68 617h1v1h-1zM68 618h1v1h-1zM69 619h1v1h-1zM70 620h1v1h-1zM71 619h1v1h-1zM72 617h1v1h-1zM72 618h1v1h-1zM73 616h1v1h-1zM74 615h1v1h-1z" fill="#dd0000" stroke="none" shape-rendering="crispEdges"/>
<rect class="bx" x="110.5" y="540.5" width="60.0" height="30.0"/>
<text class="t" x="115.5" y="553.0" textLength="48.0">/photo.h</text>
<text class="t" x="130.5" y="567.0" textLength="18.0">tml</text>
<text class="t" x="124.5" y="537.0" textLength="30.0">(632)</text>
<text class="b" x="128.7" y="599.0" textLength="21.0" fill="#dd0000" stroke="#dd0000" lengthAdjust="spacingAndGlyphs">520</text>
<line x1="140.5" y1="570.0" x2="140.5" y2="621.0" stroke="#dd0000" stroke-width="1"/>
<path d="M136 615h1v1h-1zM137 616h1v1h-1zM138 617h1v1h-1zM138 618h1v1h-1zM139 619h1v1h-1zM140 620h1v1h-1zM141 619h1v1h-1zM142 617h1v1h-1zM142 618h1v1h-1zM143 616h1v1h-1zM144 615h1v1h-1z" fill="#dd0000" stroke="none" shape-rendering="crispEdges"/>
<rect class="bx" x="180.5" y="540.5" width="60.0" height="30.0"/>
<text class="t" x="185.5" y="553.0" textLength="48.0">/mag.htm</text>
<text class="t" x="206.5" y="567.0" textLength="6.0">l</text>
<text class="t" x="194.5" y="537.0" textLength="30.0">(747)</text>
<text class="b" x="198.7" y="599.0" textLength="21.0" fill="#dd0000" stroke="#dd0000" lengthAdjust="spacingAndGlyphs">490</text>
<line x1="210.5" y1="570.0" x2="210.5" y2="621.0" stroke="#dd0000" stroke-width="1"/>
<path d="M206 615h1v1h-1zM207 616h1v1h-1zM208 617h1v1h-1zM208 618h1v1h-1zM209 619h1v1h-1zM210 620h1v1h-1zM211 619h1v1h-1zM212 617h1v1h-1zM212 618h1v1h-1zM213 616h1v1h-1zM214 615h1v1h-1z" fill="#dd0000" stroke="none" shape-rendering="crispEdges"/>
<rect class="bx" x="250.5" y="540.5" width="60.0" height="30.0"/>
<text class="t" x="255.5" y="553.0" textLength="48.0">/index.h</text>
<text class="t" x="270.5" y="567.0" textLength="18.0">tml</text>
<text class="t" x="264.5" y="537.0" textLength="30.0">(204)</text>
<text class="b" x="268.7" y="599.0" textLength="21.0" fill="#dd0000" stroke="#dd0000" lengthAdjust="spacingAndGlyphs">197</text>
<line x1="280.5" y1="570.0" x2="280.5" y2="621.0" stroke="#dd0000" stroke-width="1"/>
<path d="M276 615h1v1h-1zM277 616h1v1h-1zM278 617h1v1h-1zM278 618h1v1h-1zM279 619h1v1h-1zM280 620h1v1h-1zM281 619h1v1h-1zM282 617h1v1h-1zM282 618h1v1h-1zM283 616h1v1h-1zM284 615h1v1h-1z" fill="#dd0000" stroke="none" shape-rendering="crispEdges"/>
<rect class="bx" x="320.5" y="540.5" width="60.0" height="16.0"/>
<text class="t" x="325.5" y="553.0" textLength="48.0">/ad.html</text>
<text class="t" x="334.5" y="537.0" textLength="30.0">(134)</text>
<text class="b" x="338.7" y="585.0" textLength="21.0" fill="#dd0000" stroke="#dd0000" lengthAdjust="spacingAndGlyphs">128</text>
<line x1="350.5" y1="556.0" x2="350.5" y2="607.0" stroke="#dd0000" stroke-width="1"/>
<path d="M346 601h1v1h-1zM347 602h1v1h-1zM348 603h1v1h-1zM348 604h1v1h-1zM349 605h1v1h-1zM350 606h1v1h-1zM351 605h1v1h-1zM352 603h1v1h-1zM352 604h1v1h-1zM353 602h1v1h-1zM354 601h1v1h-1z" fill="#dd0000" stroke="none" shape-rendering="crispEdges"/>
<rect class="bx" x="390.5" y="540.5" width="60.0" height="16.0"/>
<text class="t" x="416.5" y="553.0" textLength="6.0">/</text>
<text class="t" x="404.5" y="537.0" textLength="30.0">(128)</text>
<text class="b" x="412.7" y="585.0" textLength="14.0" fill="#dd0000" stroke="#dd0000" lengthAdjust="spacingAndGlyphs">97</text>
<line x1="420.5" y1="556.0" x2="420.5" y2="607.0" stroke="#dd0000" stroke-width="1"/>
<path d="M416 601h1v1h-1zM417 602h1v1h-1zM418 603h1v1h-1zM418 604h1v1h-1zM419 605h1v1h-1zM420 606h1v1h-1zM421 605h1v1h-1zM422 603h1v1h-1zM422 604h1v1h-1zM423 602h1v1h-1zM424 601h1v1h-1z" fill="#dd0000" stroke="none" shape-rendering="crispEdges"/>
<rect class="bx" x="460.5" y="540.5" width="60.0" height="44.0"/>
<text class="t" x="465.5" y="553.0" textLength="48.0">/photos/</text>
<text class="t" x="465.5" y="567.0" textLength="48.0">gracieba</text>
<text class="t" x="465.5" y="581.0" textLength="48.0">rra.html</text>
<text class="t" x="477.5" y="537.0" textLength="24.0">(64)</text>
<text class="b" x="482.7" y="613.0" textLength="14.0" fill="#dd0000" stroke="#dd0000" lengthAdjust="spacingAndGlyphs">63</text>
<line x1="490.5" y1="584.0" x2="490.5" y2="635.0" stroke="#dd0000" stroke-width="1"/>
<path d="M486 629h1v1h-1zM487 630h1v1h-1zM488 631h1v1h-1zM488 632h1v1h-1zM489 633h1v1h-1zM490 634h1v1h-1zM491 633h1v1h-1zM492 631h1v1h-1zM492 632h1v1h-1zM493 630h1v1h-1zM494 629h1v1h-1z" fill="#dd0000" stroke="none" shape-rendering="crispEdges"/>
<text class="t" x="207.5" y="655.0" textLength="372.0">These pages account for 87.3 % of all exits from your website.</text>
<text class="t" x="213.5" y="670.0" textLength="360.0">The links represent 96.9 % of all links to these exit pages.</text>
<text class="t" x="19.5" y="695.0" textLength="192.0">Created with aWebVisit-Map 0.1.6</text>
</svg>
</body>
</html>
